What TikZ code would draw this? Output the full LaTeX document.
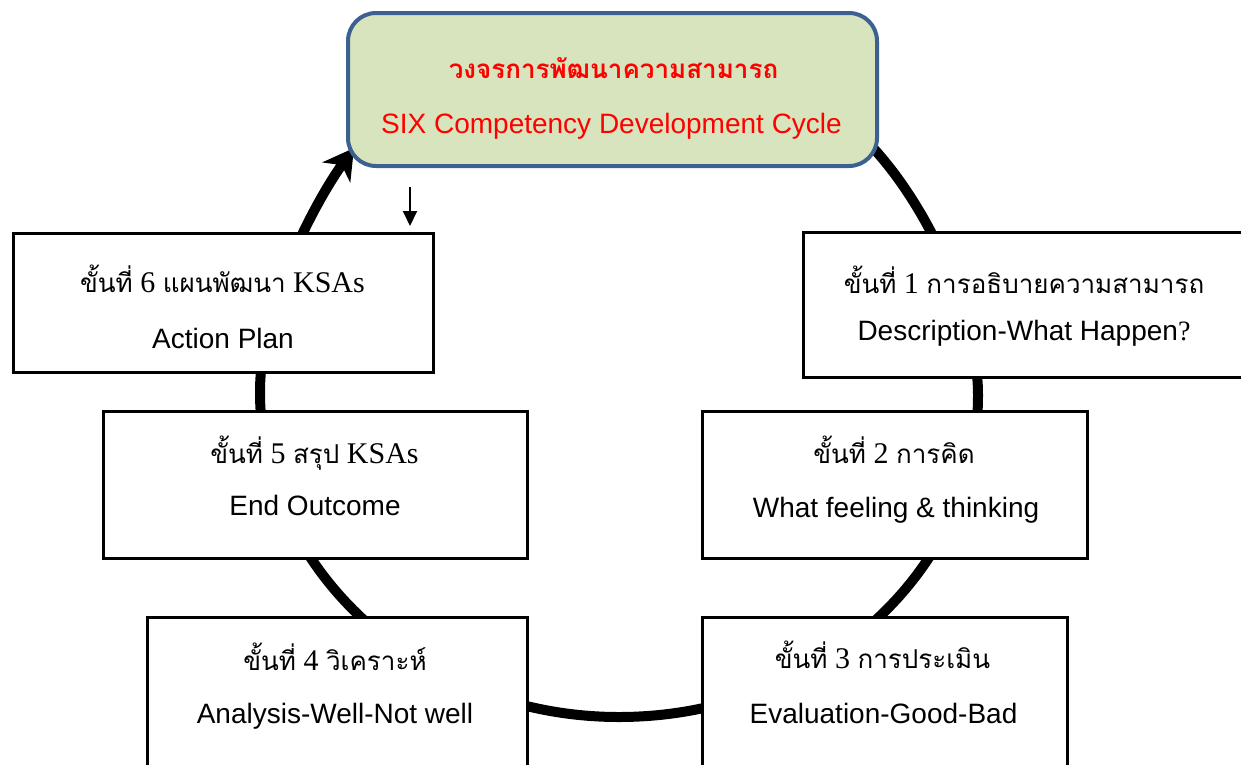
\documentclass[tikz,border=0pt]{standalone}
\usepackage{fontspec}
\setmainfont{Liberation Serif}
\newfontfamily\thaifont[Script=Thai]{Loma}
\newfontfamily\arialfont{Liberation Sans}
\usetikzlibrary{arrows.meta}

\definecolor{titlefill}{HTML}{D7E4BD}
\definecolor{titleedge}{HTML}{3C6090}

% Thai words inside a line set in the serif font
\newcommand\tht[1]{{\thaifont\fontsize{26}{26}\selectfont #1}}

\tikzset{
  stepbox/.style={draw=black, line width=3pt, fill=white, inner sep=0pt, outer sep=0pt},
  titlebox/.style={draw=titleedge, fill=titlefill, line width=4pt, rounded corners=28pt,
    inner sep=0pt, outer sep=0pt},
  thline/.style={anchor=base, inner sep=0pt, font=\fontsize{30}{30}\selectfont},
  enline/.style={anchor=base, inner sep=0pt, font=\arialfont\fontsize{28}{28}\selectfont},
  ring/.style={draw=black, line width=10pt},
  pointer/.style={draw=black, line width=2pt, -{Triangle[length=15pt,width=14pt]}},
}

\begin{document}
\begin{tikzpicture}[x=1pt,y=-1pt]
\useasboundingbox (0,0) rectangle (1241,764);
\clip (0,0) rectangle (1241,764);

% the cycle ring, ending in an arrow at the title
\coordinate (r0) at (800,96);
\coordinate (rE) at (978,395);
\coordinate (rS) at (619,717);
\coordinate (rW) at (260,392);
\coordinate (tip) at (354,148);
\draw[ring, -{Stealth[length=30pt,width=34pt,inset=9pt]}]
  (r0) .. controls (890,125) and (978,290) .. (rE)
       .. controls (978,573) and (817,717) .. (rS)
       .. controls (421,717) and (260,570) .. (rW)
       .. controls (260,300) and (320,195) .. (tip);

% six step boxes
\node[stepbox, minimum width=439pt, minimum height=145pt] (b1) at (1022.5,304.5) {};
\node[stepbox, minimum width=385pt, minimum height=147pt] (b2) at (894.5,484.5) {};
\node[stepbox, minimum width=365pt, minimum height=158pt] (b3) at (884.5,696) {};
\node[stepbox, minimum width=380pt, minimum height=158pt] (b4) at (337,696) {};
\node[stepbox, minimum width=424pt, minimum height=147pt] (b5) at (315,484.5) {};
\node[stepbox, minimum width=420pt, minimum height=139pt] (b6) at (223,302.5) {};

\node[thline] (t1) at (1024,293) {\tht{ขั้นที่} 1 \tht{การอธิบายความสามารถ}};
\node[enline] (e1) at (1024,340) {Description-What Happen{\rmfamily ?}};
\node[thline] (t2) at (894,463) {\tht{ขั้นที่} 2 \tht{การคิด}};
\node[enline] (e2) at (896,517) {What feeling \& thinking};
\node[thline] (t3) at (882.5,668) {\tht{ขั้นที่} 3 \tht{การประเมิน}};
\node[enline] (e3) at (883.5,723) {Evaluation-Good-Bad};
\node[thline] (t4) at (335,670) {\tht{ขั้นที่} 4 \tht{วิเคราะห์}};
\node[enline] (e4) at (335,723) {Analysis-Well-Not well};
\node[thline] (t5) at (314.5,463) {\tht{ขั้นที่} 5 \tht{สรุป} KSAs};
\node[enline] (e5) at (315,515) {End Outcome};
\node[thline] (t6) at (222.5,292) {\tht{ขั้นที่} 6 \tht{แผนพัฒนา} KSAs};
\node[enline] (e6) at (223,348) {Action Plan};

% title
\node[titlebox, minimum width=529pt, minimum height=153pt] (title) at (612.5,89.5) {};
\node[anchor=base, inner sep=0pt, text=red, font=\thaifont\bfseries\fontsize{26}{26}\selectfont]
  (titleth) at (613.5,78) {วงจรการพัฒนาความสามารถ};
\node[anchor=base, inner sep=0pt, text=red, font=\arialfont\fontsize{28}{28}\selectfont]
  (titleen) at (611.5,133) {SIX Competency Development Cycle};

% small pointer above step 6
\coordinate (pa) at (410,187);
\coordinate (pb) at (410,226);
\draw[pointer] (pa) -- (pb);
\end{tikzpicture}
\end{document}
